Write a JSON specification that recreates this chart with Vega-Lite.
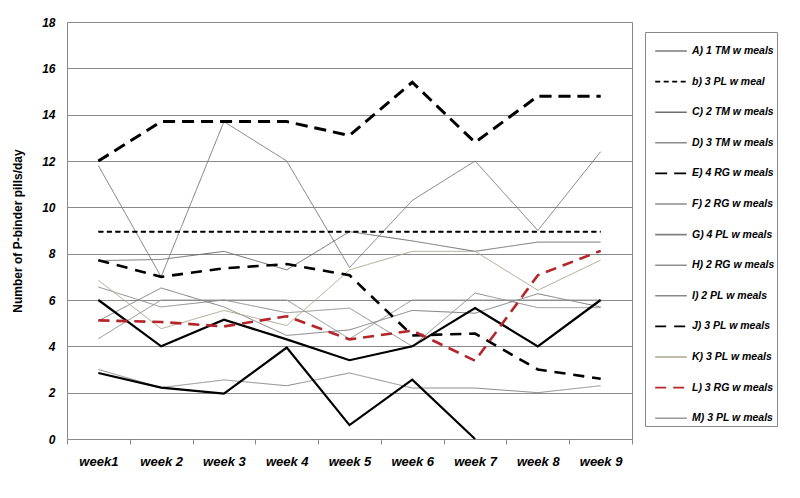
{
  "$schema": "https://vega.github.io/schema/vega-lite/v6.json",
  "width": 565,
  "height": 417,
  "autosize": {"type": "none"},
  "padding": {"left": 67, "top": 22, "right": 168, "bottom": 59},
  "background": "white",
  "config": {
    "view": {"stroke": "#888888", "strokeWidth": 1},
    "font": "Liberation Sans"
  },
  "data": {
    "values": [
      {"s": "A) 1 TM w meals", "w": "week1", "v": 11.8},
      {"s": "A) 1 TM w meals", "w": "week 2", "v": 7.0},
      {"s": "A) 1 TM w meals", "w": "week 3", "v": 13.7},
      {"s": "A) 1 TM w meals", "w": "week 4", "v": 12.0},
      {"s": "A) 1 TM w meals", "w": "week 5", "v": 7.4},
      {"s": "A) 1 TM w meals", "w": "week 6", "v": 10.3},
      {"s": "A) 1 TM w meals", "w": "week 7", "v": 12.0},
      {"s": "A) 1 TM w meals", "w": "week 8", "v": 9.0},
      {"s": "A) 1 TM w meals", "w": "week 9", "v": 12.4},
      {"s": "b) 3 PL w meal", "w": "week1", "v": 8.95},
      {"s": "b) 3 PL w meal", "w": "week 2", "v": 8.95},
      {"s": "b) 3 PL w meal", "w": "week 3", "v": 8.95},
      {"s": "b) 3 PL w meal", "w": "week 4", "v": 8.95},
      {"s": "b) 3 PL w meal", "w": "week 5", "v": 8.95},
      {"s": "b) 3 PL w meal", "w": "week 6", "v": 8.95},
      {"s": "b) 3 PL w meal", "w": "week 7", "v": 8.95},
      {"s": "b) 3 PL w meal", "w": "week 8", "v": 8.95},
      {"s": "b) 3 PL w meal", "w": "week 9", "v": 8.95},
      {"s": "C) 2 TM w meals", "w": "week1", "v": 7.7},
      {"s": "C) 2 TM w meals", "w": "week 2", "v": 7.75},
      {"s": "C) 2 TM w meals", "w": "week 3", "v": 8.1},
      {"s": "C) 2 TM w meals", "w": "week 4", "v": 7.3},
      {"s": "C) 2 TM w meals", "w": "week 5", "v": 8.95},
      {"s": "C) 2 TM w meals", "w": "week 6", "v": 8.55},
      {"s": "C) 2 TM w meals", "w": "week 7", "v": 8.1},
      {"s": "C) 2 TM w meals", "w": "week 8", "v": 8.5},
      {"s": "C) 2 TM w meals", "w": "week 9", "v": 8.5},
      {"s": "D) 3 TM w meals", "w": "week1", "v": 6.0},
      {"s": "D) 3 TM w meals", "w": "week 2", "v": 4.0},
      {"s": "D) 3 TM w meals", "w": "week 3", "v": 5.15},
      {"s": "D) 3 TM w meals", "w": "week 4", "v": 4.3},
      {"s": "D) 3 TM w meals", "w": "week 5", "v": 3.4},
      {"s": "D) 3 TM w meals", "w": "week 6", "v": 4.0},
      {"s": "D) 3 TM w meals", "w": "week 7", "v": 5.65},
      {"s": "D) 3 TM w meals", "w": "week 8", "v": 4.0},
      {"s": "D) 3 TM w meals", "w": "week 9", "v": 6.0},
      {"s": "E) 4 RG w meals", "w": "week1", "v": 12.0},
      {"s": "E) 4 RG w meals", "w": "week 2", "v": 13.7},
      {"s": "E) 4 RG w meals", "w": "week 3", "v": 13.7},
      {"s": "E) 4 RG w meals", "w": "week 4", "v": 13.7},
      {"s": "E) 4 RG w meals", "w": "week 5", "v": 13.1},
      {"s": "E) 4 RG w meals", "w": "week 6", "v": 15.4},
      {"s": "E) 4 RG w meals", "w": "week 7", "v": 12.8},
      {"s": "E) 4 RG w meals", "w": "week 8", "v": 14.8},
      {"s": "E) 4 RG w meals", "w": "week 9", "v": 14.8},
      {"s": "F) 2 RG w meals", "w": "week1", "v": 6.56},
      {"s": "F) 2 RG w meals", "w": "week 2", "v": 5.7},
      {"s": "F) 2 RG w meals", "w": "week 3", "v": 6.0},
      {"s": "F) 2 RG w meals", "w": "week 4", "v": 5.45},
      {"s": "F) 2 RG w meals", "w": "week 5", "v": 5.65},
      {"s": "F) 2 RG w meals", "w": "week 6", "v": 4.0},
      {"s": "F) 2 RG w meals", "w": "week 7", "v": 6.3},
      {"s": "F) 2 RG w meals", "w": "week 8", "v": 5.67},
      {"s": "F) 2 RG w meals", "w": "week 9", "v": 5.67},
      {"s": "G) 4 PL w meals", "w": "week1", "v": 5.1},
      {"s": "G) 4 PL w meals", "w": "week 2", "v": 6.52},
      {"s": "G) 4 PL w meals", "w": "week 3", "v": 5.7},
      {"s": "G) 4 PL w meals", "w": "week 4", "v": 4.47},
      {"s": "G) 4 PL w meals", "w": "week 5", "v": 4.71},
      {"s": "G) 4 PL w meals", "w": "week 6", "v": 5.55},
      {"s": "G) 4 PL w meals", "w": "week 7", "v": 5.43},
      {"s": "G) 4 PL w meals", "w": "week 8", "v": 6.27},
      {"s": "G) 4 PL w meals", "w": "week 9", "v": 5.7},
      {"s": "H) 2 RG w meals", "w": "week1", "v": 4.33},
      {"s": "H) 2 RG w meals", "w": "week 2", "v": 6.0},
      {"s": "H) 2 RG w meals", "w": "week 3", "v": 6.0},
      {"s": "H) 2 RG w meals", "w": "week 4", "v": 6.0},
      {"s": "H) 2 RG w meals", "w": "week 5", "v": 4.32},
      {"s": "H) 2 RG w meals", "w": "week 6", "v": 6.0},
      {"s": "H) 2 RG w meals", "w": "week 7", "v": 6.0},
      {"s": "H) 2 RG w meals", "w": "week 8", "v": 6.0},
      {"s": "H) 2 RG w meals", "w": "week 9", "v": 6.0},
      {"s": "I) 2 PL w meals", "w": "week1", "v": 3.0},
      {"s": "I) 2 PL w meals", "w": "week 2", "v": 2.22},
      {"s": "I) 2 PL w meals", "w": "week 3", "v": 2.55},
      {"s": "I) 2 PL w meals", "w": "week 4", "v": 2.3},
      {"s": "I) 2 PL w meals", "w": "week 5", "v": 2.85},
      {"s": "I) 2 PL w meals", "w": "week 6", "v": 2.2},
      {"s": "I) 2 PL w meals", "w": "week 7", "v": 2.2},
      {"s": "I) 2 PL w meals", "w": "week 8", "v": 2.0},
      {"s": "I) 2 PL w meals", "w": "week 9", "v": 2.3},
      {"s": "J) 3 PL w meals", "w": "week1", "v": 7.72},
      {"s": "J) 3 PL w meals", "w": "week 2", "v": 7.0},
      {"s": "J) 3 PL w meals", "w": "week 3", "v": 7.37},
      {"s": "J) 3 PL w meals", "w": "week 4", "v": 7.55},
      {"s": "J) 3 PL w meals", "w": "week 5", "v": 7.07},
      {"s": "J) 3 PL w meals", "w": "week 6", "v": 4.47},
      {"s": "J) 3 PL w meals", "w": "week 7", "v": 4.55},
      {"s": "J) 3 PL w meals", "w": "week 8", "v": 3.0},
      {"s": "J) 3 PL w meals", "w": "week 9", "v": 2.6},
      {"s": "K) 3 PL w meals", "w": "week1", "v": 6.85},
      {"s": "K) 3 PL w meals", "w": "week 2", "v": 4.76},
      {"s": "K) 3 PL w meals", "w": "week 3", "v": 5.55},
      {"s": "K) 3 PL w meals", "w": "week 4", "v": 4.9},
      {"s": "K) 3 PL w meals", "w": "week 5", "v": 7.3},
      {"s": "K) 3 PL w meals", "w": "week 6", "v": 8.1},
      {"s": "K) 3 PL w meals", "w": "week 7", "v": 8.1},
      {"s": "K) 3 PL w meals", "w": "week 8", "v": 6.42},
      {"s": "K) 3 PL w meals", "w": "week 9", "v": 7.72},
      {"s": "L) 3 RG w meals", "w": "week1", "v": 5.12},
      {"s": "L) 3 RG w meals", "w": "week 2", "v": 5.05},
      {"s": "L) 3 RG w meals", "w": "week 3", "v": 4.86},
      {"s": "L) 3 RG w meals", "w": "week 4", "v": 5.3},
      {"s": "L) 3 RG w meals", "w": "week 5", "v": 4.3},
      {"s": "L) 3 RG w meals", "w": "week 6", "v": 4.68},
      {"s": "L) 3 RG w meals", "w": "week 7", "v": 3.38},
      {"s": "L) 3 RG w meals", "w": "week 8", "v": 7.07},
      {"s": "L) 3 RG w meals", "w": "week 9", "v": 8.12},
      {"s": "M) 3 PL w meals", "w": "week1", "v": 2.85},
      {"s": "M) 3 PL w meals", "w": "week 2", "v": 2.22},
      {"s": "M) 3 PL w meals", "w": "week 3", "v": 1.96},
      {"s": "M) 3 PL w meals", "w": "week 4", "v": 3.95},
      {"s": "M) 3 PL w meals", "w": "week 5", "v": 0.6},
      {"s": "M) 3 PL w meals", "w": "week 6", "v": 2.56},
      {"s": "M) 3 PL w meals", "w": "week 7", "v": 0.0}
    ]
  },
  "encoding": {
    "x": {
      "field": "w", "type": "nominal",
      "sort": ["week1", "week 2", "week 3", "week 4", "week 5", "week 6", "week 7", "week 8", "week 9"],
      "scale": {"type": "band", "paddingInner": 0, "paddingOuter": 0},
      "axis": {
        "title": null, "labelAngle": 0, "tickBand": "extent", "grid": false,
        "domain": false, "ticks": true, "tickSize": 5, "tickColor": "#888888",
        "labelFont": "Liberation Sans", "labelFontSize": 13, "labelFontWeight": "bold",
        "labelFontStyle": "italic", "labelColor": "#000000", "labelPadding": 11
      }
    },
    "y": {
      "field": "v", "type": "quantitative",
      "scale": {"domain": [0, 18], "nice": false},
      "axis": {
        "title": "Number of P-binder pills/day",
        "values": [0, 2, 4, 6, 8, 10, 12, 14, 16, 18],
        "grid": true, "gridColor": "#8a8a8a", "gridWidth": 1,
        "domain": false, "ticks": false,
        "labelFont": "Liberation Sans", "labelFontSize": 12, "labelFontWeight": "bold",
        "labelFontStyle": "italic", "labelColor": "#000000", "labelPadding": 12,
        "titleFont": "Liberation Sans", "titleFontSize": 12, "titleFontWeight": "bold",
        "titleColor": "#000000", "titlePadding": 17
      }
    }
  },
  "layer": [
    {
      "mark": {"type": "line", "strokeWidth": 1},
      "encoding": {
        "color": {
          "field": "s", "type": "nominal",
          "scale": {
            "domain": ["A) 1 TM w meals", "b) 3 PL w meal", "C) 2 TM w meals", "D) 3 TM w meals", "E) 4 RG w meals", "F) 2 RG w meals", "G) 4 PL w meals", "H) 2 RG w meals", "I) 2 PL w meals", "J) 3 PL w meals", "K) 3 PL w meals", "L) 3 RG w meals", "M) 3 PL w meals"],
            "range": ["#7a7a7a", "#000000", "#6e6e6e", "#8a8a8a", "#000000", "#8c8c8c", "#7f7f7f", "#909090", "#8a8a8a", "#000000", "#aca78f", "#b5262b", "#999999"]
          },
          "legend": {
            "orient": "none", "legendX": 578, "legendY": 10, "title": null,
            "strokeColor": "#888888", "padding": 2, "symbolOffset": 7,
            "symbolType": "stroke", "symbolSize": 1000, "symbolStrokeWidth": 1.6,
            "labelFont": "Liberation Sans", "labelFontSize": 10.5, "labelFontWeight": "bold",
            "labelFontStyle": "italic", "labelColor": "#000000", "labelOffset": 4,
            "rowPadding": 7.6, "labelLimit": 200, "offset": 0
          }
        },
        "strokeDash": {
          "field": "s", "type": "nominal",
          "scale": {
            "domain": ["A) 1 TM w meals", "b) 3 PL w meal", "C) 2 TM w meals", "D) 3 TM w meals", "E) 4 RG w meals", "F) 2 RG w meals", "G) 4 PL w meals", "H) 2 RG w meals", "I) 2 PL w meals", "J) 3 PL w meals", "K) 3 PL w meals", "L) 3 RG w meals", "M) 3 PL w meals"],
            "range": [[1, 0], [5, 3.5], [1, 0], [1, 0], [12, 7], [1, 0], [1, 0], [1, 0], [1, 0], [11, 8], [1, 0], [11, 7], [1, 0]]
          }
        }
      }
    },
    {
      "transform": [{"filter": {"field": "s", "oneOf": ["D) 3 TM w meals", "M) 3 PL w meals"]}}],
      "mark": {"type": "line", "stroke": "#000000", "strokeWidth": 2.2},
      "encoding": {"detail": {"field": "s", "type": "nominal"}}
    },
    {
      "transform": [{"filter": {"field": "s", "equal": "b) 3 PL w meal"}}],
      "mark": {"type": "line", "stroke": "#000000", "strokeWidth": 2, "strokeDash": [5, 3.5]},
      "encoding": {"detail": {"field": "s", "type": "nominal"}}
    },
    {
      "transform": [{"filter": {"field": "s", "equal": "E) 4 RG w meals"}}],
      "mark": {"type": "line", "stroke": "#000000", "strokeWidth": 3, "strokeDash": [12, 7]},
      "encoding": {"detail": {"field": "s", "type": "nominal"}}
    },
    {
      "transform": [{"filter": {"field": "s", "equal": "J) 3 PL w meals"}}],
      "mark": {"type": "line", "stroke": "#000000", "strokeWidth": 2.6, "strokeDash": [11, 8]},
      "encoding": {"detail": {"field": "s", "type": "nominal"}}
    },
    {
      "transform": [{"filter": {"field": "s", "equal": "L) 3 RG w meals"}}],
      "mark": {"type": "line", "stroke": "#b5262b", "strokeWidth": 2.6, "strokeDash": [11, 7]},
      "encoding": {"detail": {"field": "s", "type": "nominal"}}
    }
  ]
}
